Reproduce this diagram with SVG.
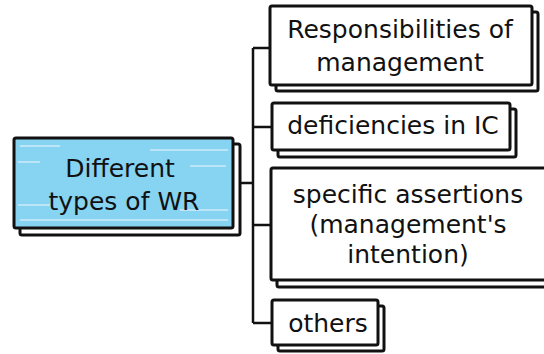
<svg xmlns="http://www.w3.org/2000/svg" width="544" height="354" viewBox="0 0 544 354">
<style>
.sh{fill:#fff;stroke:#111;stroke-width:3;stroke-linejoin:round}
.bx{fill:#fff;stroke:#111;stroke-width:3;stroke-linejoin:round}
.rt{fill:#86d3f2;stroke:#111;stroke-width:3;stroke-linejoin:round}
.t{font-family:"DejaVu Sans","Liberation Sans",sans-serif;font-size:25px;fill:#111;text-anchor:middle}
.c{fill:none;stroke:#111;stroke-width:2.5;stroke-linejoin:round}
.st{stroke:#fff;stroke-width:1.5;opacity:0.6}
</style>
<g id="connectors">
<path class="c" d="M240 183 H253 M253 48 V323 M253 48 H271 M253 127 H272 M253 225 H271 M253 323 H272"/>
</g>
<g id="root">
<rect class="sh" x="20" y="144" width="220" height="91" rx="2"/>
<rect class="rt" x="14" y="138" width="219" height="90" rx="2"/>
<g class="st">
<line x1="20" y1="146" x2="60" y2="146"/><line x1="150" y1="150" x2="228" y2="150"/>
<line x1="18" y1="162" x2="40" y2="162"/><line x1="190" y1="166" x2="226" y2="166"/>
<line x1="18" y1="205" x2="50" y2="205"/><line x1="180" y1="210" x2="228" y2="210"/>
<line x1="20" y1="220" x2="228" y2="220"/>
</g>
<text class="t" x="120" y="177">Different</text>
<text class="t" x="124" y="210">types of WR</text>
</g>
<g id="n1">
<rect class="sh" x="276" y="12" width="262" height="79" rx="2"/>
<rect class="bx" x="270" y="6" width="262" height="79" rx="2"/>
<text class="t" x="400" y="38">Responsibilities of</text>
<text class="t" x="400" y="71">management</text>
</g>
<g id="n2">
<rect class="sh" x="278" y="109" width="238" height="48" rx="2"/>
<rect class="bx" x="272" y="103" width="238" height="47" rx="2"/>
<text class="t" x="393" y="134">deficiencies in IC</text>
</g>
<g id="n3">
<rect class="sh" x="277" y="174" width="275" height="113" rx="2"/>
<rect class="bx" x="271" y="168" width="275" height="112" rx="2"/>
<text class="t" x="408" y="203">specific assertions</text>
<text class="t" x="408" y="233">(management's</text>
<text class="t" x="408" y="263">intention)</text>
</g>
<g id="n4">
<rect class="sh" x="278" y="306" width="106" height="45" rx="2"/>
<rect class="bx" x="272" y="300" width="106" height="45" rx="2"/>
<text class="t" x="328" y="332">others</text>
</g>
</svg>
